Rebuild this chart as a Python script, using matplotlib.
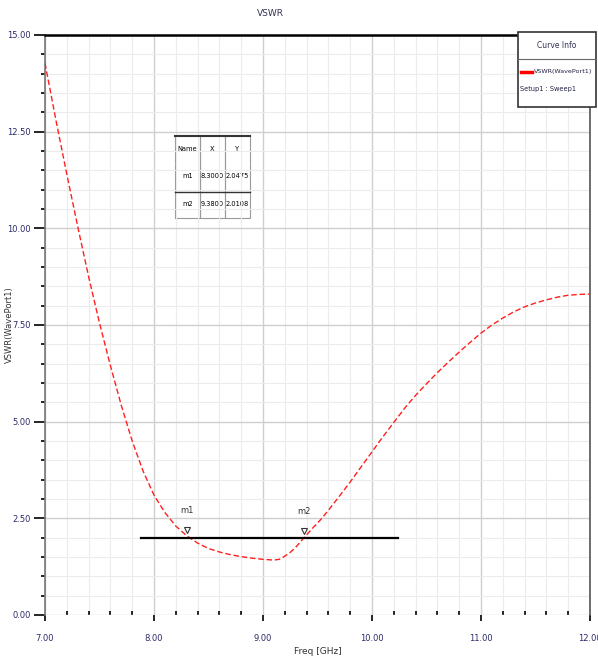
import matplotlib
matplotlib.use('Agg')
import matplotlib.pyplot as plt
from matplotlib.patches import Rectangle
from matplotlib.lines import Line2D

# curve
freq = [7.00, 7.10, 7.20, 7.30, 7.40, 7.50, 7.60, 7.70, 7.80, 7.90, 8.00, 8.10, 8.20,
        8.30, 8.40, 8.50, 8.60, 8.70, 8.80, 8.90, 9.00, 9.10, 9.15, 9.20, 9.25, 9.30,
        9.38, 9.46, 9.54, 9.60, 9.70, 9.80, 9.90, 10.00, 10.10, 10.20, 10.30, 10.40,
        10.50, 10.60, 10.70, 10.80, 10.90, 11.00, 11.10, 11.20, 11.30, 11.40, 11.50,
        11.60, 11.70, 11.80, 11.90, 12.00]
vswr = [14.27, 12.80, 11.40, 10.05, 8.75, 7.55, 6.45, 5.42, 4.50, 3.72, 3.10, 2.65, 2.30,
        2.05, 1.86, 1.72, 1.63, 1.56, 1.51, 1.47, 1.44, 1.42, 1.44, 1.52, 1.62, 1.75,
        2.01, 2.26, 2.50, 2.71, 3.07, 3.44, 3.83, 4.22, 4.61, 4.98, 5.35, 5.68,
        5.98, 6.27, 6.54, 6.80, 7.05, 7.29, 7.50, 7.68, 7.84, 7.97, 8.07,
        8.15, 8.22, 8.27, 8.29, 8.30]

marker_names = ['m1', 'm2']
marker_x = [8.3000, 9.3800]
marker_y = [2.0475, 2.0108]

ref_level = 2.0
ref_start, ref_end = 7.88, 10.24

x_ticks = [7, 8, 9, 10, 11, 12]
y_ticks = [0, 2.5, 5, 7.5, 10, 12.5, 15]

lab_col = '#2a2a6a'

fig = plt.figure(figsize=(5.98, 6.62), dpi=100)
ax = fig.add_axes([45 / 598, 1 - 615 / 662, 545 / 598, 580 / 662])

ax.plot(freq, vswr, color='#ff2020', lw=1.0, ls=(0, (4, 2)), zorder=3)
ax.plot([ref_start, ref_end], [ref_level, ref_level], color='black', lw=1.6, zorder=4)

for name, mx, my in zip(marker_names, marker_x, marker_y):
    ax.plot(mx, my + 0.15, marker='v', ms=5, mfc='white', mec='#333333', mew=0.8, zorder=5)
    ax.text(mx, my + 0.55, name, fontsize=6, color='#333333', ha='center', va='bottom')

ax.set_xlim(7, 12)
ax.set_ylim(0, 15)
ax.set_xticks(x_ticks)
ax.set_xticklabels(['%.2f' % v for v in x_ticks])
ax.set_yticks(y_ticks)
ax.set_yticklabels(['%.2f' % v for v in y_ticks])
ax.set_xticks([7 + 0.2 * i for i in range(26)], minor=True)
ax.set_yticks([0.5 * i for i in range(31)], minor=True)
ax.tick_params(axis='both', which='major', labelsize=6.0, labelcolor=lab_col, length=8, width=1.2)
ax.tick_params(axis='y', which='major', pad=2)
ax.tick_params(axis='both', which='minor', length=3, width=1.2)
ax.tick_params(axis='x', which='major', length=4, pad=10)
ax.tick_params(axis='x', which='minor', length=3, direction='in')

ax.grid(which='major', color='#cfcfcf', lw=1.0)
ax.grid(which='minor', color='#ececec', lw=0.8)
ax.set_axisbelow(True)

ax.spines['top'].set_color('black')
ax.spines['top'].set_linewidth(1.8)
ax.spines['left'].set_color('#777777')
ax.spines['left'].set_linewidth(1.2)
ax.spines['right'].set_color('#555555')
ax.spines['right'].set_linewidth(1.2)
ax.spines['bottom'].set_visible(False)

ax.set_xlabel('Freq [GHz]', fontsize=6.5, color='#333333', labelpad=2)
ax.xaxis.set_label_coords(0.5, -0.055)
ax.set_ylabel('VSWR(WavePort1)', fontsize=6.0, color='#333333')
ax.yaxis.set_label_coords(-0.057, 0.5)
fig.text(270 / 598, 1 - 13 / 662, 'VSWR', fontsize=6.5, color='#333355', ha='center', va='center')

# marker table
tbl = ax.table(cellText=[['m1', '%.4f' % marker_x[0], '%.4f' % marker_y[0]],
                         ['m2', '%.4f' % marker_x[1], '%.4f' % marker_y[1]]],
               colLabels=['Name', 'X', 'Y'], cellLoc='center',
               bbox=[(175 - 45) / 545, (615 - 218) / 580, 75 / 545, 83 / 580])
tbl.auto_set_font_size(False)
tbl.set_fontsize(4.8)
for (r, c), cell in tbl.get_celld().items():
    cell.set_edgecolor('#999999')
    cell.set_linewidth(0.8)
    cell.set_facecolor('white')
    cell.PAD = 0.02
    cell.visible_edges = 'LR' if r < 2 else 'LRB'
ax.add_line(Line2D([(175 - 45) / 545, (250 - 45) / 545], [(615 - 136) / 580] * 2,
                   transform=ax.transAxes, color='#333333', lw=1.5, zorder=10))
ax.add_line(Line2D([(175 - 45) / 545, (250 - 45) / 545], [(615 - 192) / 580] * 2,
                   transform=ax.transAxes, color='#333333', lw=1.0, zorder=10))

# legend box (drawn in figure coords)
lx0, ly0, lx1, ly1 = 518 / 598, 1 - 107 / 662, 596 / 598, 1 - 32 / 662
fig.patches.append(Rectangle((lx0, ly0), lx1 - lx0, ly1 - ly0, transform=fig.transFigure,
                             facecolor='white', edgecolor='#333333', lw=1.2, zorder=10))
fig.add_artist(Line2D([lx0, lx1], [1 - 59 / 662] * 2, color='#666666', lw=0.8, zorder=11))
fig.text((lx0 + lx1) / 2, 1 - 45 / 662, 'Curve Info', fontsize=5.5, color='#333355',
         ha='center', va='center', zorder=12)
fig.add_artist(Line2D([521 / 598, 532 / 598], [1 - 72 / 662] * 2, color='red', lw=2.5, zorder=12))
fig.text(534 / 598, 1 - 72 / 662, 'VSWR(WavePort1)', fontsize=4.6, color='#222244',
         ha='left', va='center', zorder=12)
fig.text(520 / 598, 1 - 89 / 662, 'Setup1 : Sweep1', fontsize=4.8, color='#222244',
         ha='left', va='center', zorder=12)

fig.savefig('out.png', dpi=100)
